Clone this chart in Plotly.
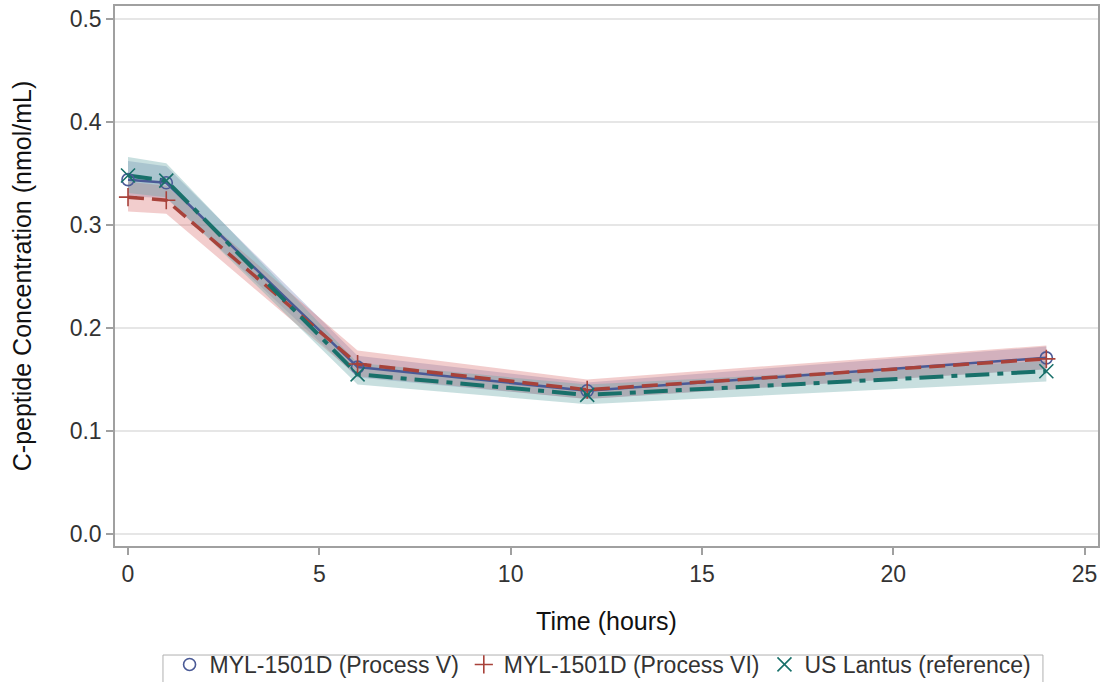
import plotly.graph_objects as go

# Sampling times (hours)
time_h = [0, 1, 6, 12, 24]

# Mean C-peptide concentration (nmol/mL) per treatment
proc_v_mean = [0.344, 0.341, 0.162, 0.139, 0.171]
proc_vi_mean = [0.327, 0.324, 0.165, 0.140, 0.170]
lantus_mean = [0.348, 0.343, 0.155, 0.135, 0.158]

# Confidence band limits
proc_v_lo = [0.328, 0.326, 0.152, 0.131, 0.160]
proc_v_hi = [0.362, 0.357, 0.173, 0.147, 0.182]
proc_vi_lo = [0.313, 0.311, 0.153, 0.131, 0.160]
proc_vi_hi = [0.342, 0.338, 0.178, 0.150, 0.183]
lantus_lo = [0.331, 0.327, 0.145, 0.126, 0.148]
lantus_hi = [0.366, 0.360, 0.166, 0.145, 0.168]

labels = ["MYL-1501D (Process V)", "MYL-1501D (Process VI)", "US Lantus (reference)"]
y_ticks = [0.0, 0.1, 0.2, 0.3, 0.4, 0.5]
x_ticks = [0, 5, 10, 15, 20, 25]

FONT = "Liberation Sans, Arial, sans-serif"

series = [
    dict(name=labels[0], mean=proc_v_mean, lo=proc_v_lo, hi=proc_v_hi,
         line="#4A5A96", fill="rgba(111,126,179,0.32)", dash="solid", width=2.5,
         symbol="circle-open", msize=12),
    dict(name=labels[1], mean=proc_vi_mean, lo=proc_vi_lo, hi=proc_vi_hi,
         line="#A8423A", fill="rgba(214,100,100,0.32)", dash="16px,8px", width=3.5,
         symbol="cross-thin-open", msize=13),
    dict(name=labels[2], mean=lantus_mean, lo=lantus_lo, hi=lantus_hi,
         line="#18706A", fill="rgba(102,165,165,0.36)", dash="24px,8px,6px,8px", width=4,
         symbol="x-thin-open", msize=14),
]

fig = go.Figure()

# Confidence bands
for s in series:
    fig.add_trace(go.Scatter(
        x=time_h + time_h[::-1], y=s["hi"] + s["lo"][::-1],
        fill="toself", fillcolor=s["fill"], line=dict(width=0),
        mode="lines", hoverinfo="skip", showlegend=False))

# Mean lines
for s in series:
    fig.add_trace(go.Scatter(
        x=time_h, y=s["mean"], mode="lines",
        line=dict(color=s["line"], width=s["width"], dash=s["dash"]),
        showlegend=False))

# Markers (also used for the legend)
for s in series:
    fig.add_trace(go.Scatter(
        x=time_h, y=s["mean"], mode="markers", name=s["name"],
        marker=dict(symbol=s["symbol"], size=s["msize"], color=s["line"],
                    line=dict(width=1.6, color=s["line"]))))

axis_common = dict(
    showline=True, linecolor="#A0A0A0", linewidth=1.5, mirror=True,
    ticks="outside", ticklen=7, tickcolor="#A0A0A0", tickwidth=1.5,
    tickfont=dict(family=FONT, size=23, color="#333333"),
    zeroline=False, automargin=False,
)

fig.update_xaxes(
    range=[-0.34, 25.35], tickvals=x_ticks, showgrid=False,
    title=dict(text="Time (hours)", standoff=26,
               font=dict(family=FONT, size=25, color="#111111")),
    **axis_common)
fig.update_yaxes(
    range=[-0.0117, 0.5126], tickvals=y_ticks, tickformat=".1f",
    showgrid=True, gridcolor="#E6E6E6", gridwidth=1.5,
    title=dict(text="C-peptide Concentration (nmol/mL)", standoff=31,
               font=dict(family=FONT, size=25, color="#111111")),
    **axis_common)

# Frame around the legend entries (runs off the bottom edge)
fig.add_shape(type="rect", xref="paper", yref="paper",
              x0=0.0488, x1=0.944, y0=-0.26, y1=-0.2019,
              line=dict(color="#B0B0B0", width=1), fillcolor="rgba(0,0,0,0)",
              layer="above")

fig.update_layout(
    template="none",
    width=1100, height=682,
    margin=dict(l=115, r=2, t=6, b=136, autoexpand=False),
    plot_bgcolor="white", paper_bgcolor="white",
    font=dict(family=FONT, color="#333333"),
    legend=dict(orientation="h", x=0.4965, xanchor="center",
                yref="container", y=0.0572, yanchor="top",
                bgcolor="rgba(0,0,0,0)", borderwidth=0,
                font=dict(family=FONT, size=23, color="#333333"),
                itemwidth=30, tracegroupgap=0),
)

fig.write_html("out.html")
